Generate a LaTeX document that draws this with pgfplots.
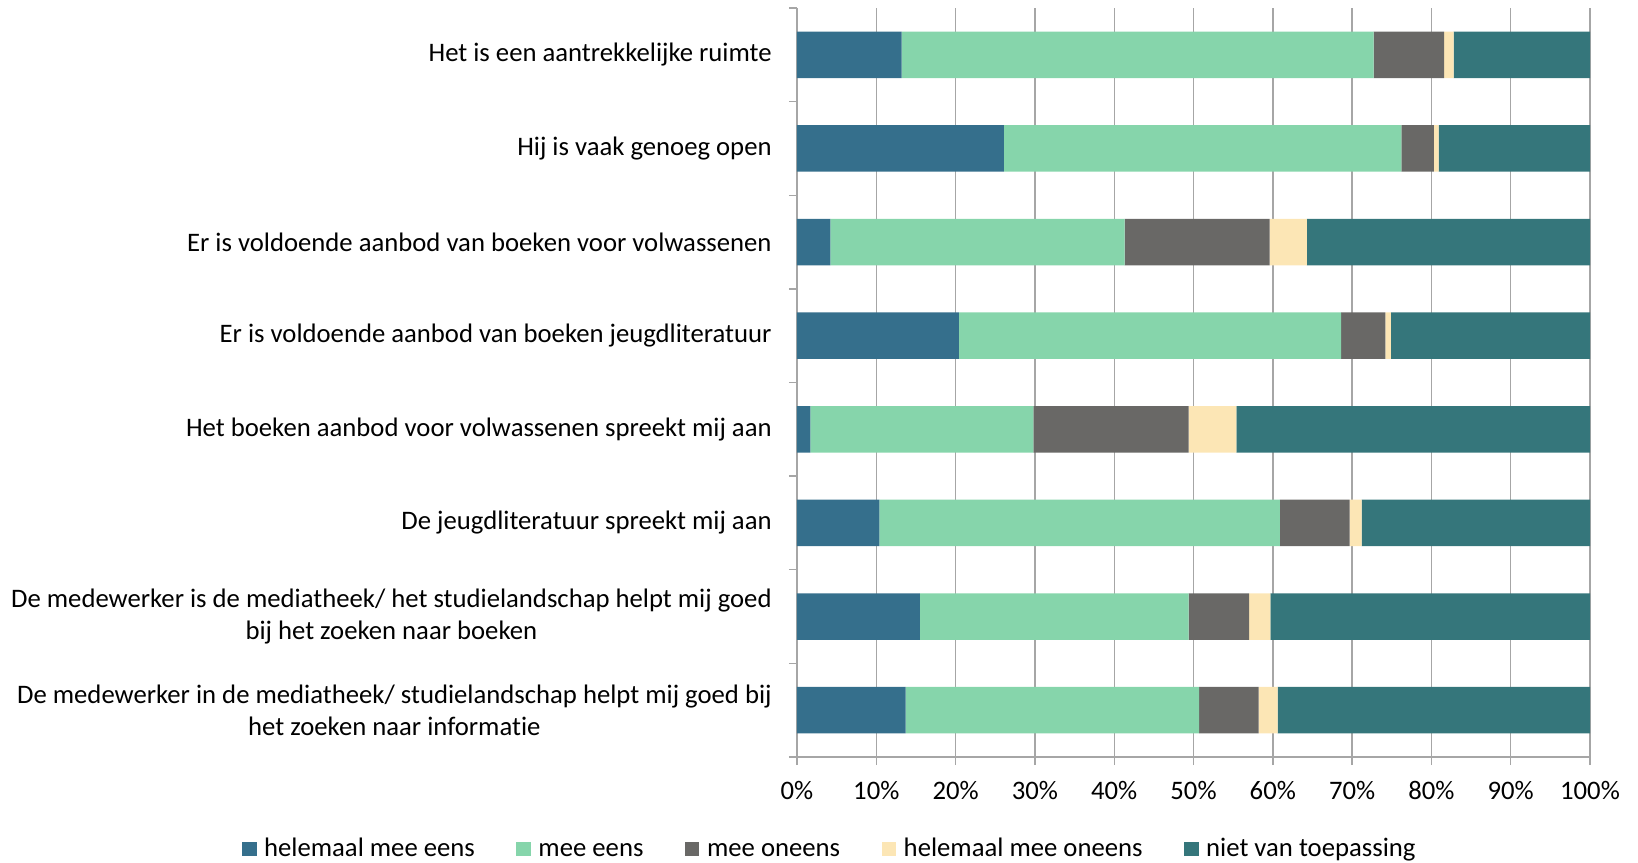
\documentclass[border=0pt]{standalone}
\usepackage{pgfplots}
\pgfplotsset{compat=1.18}
\usepackage{fontspec}
\setmainfont[Ligatures={NoCommon}]{Carlito}
\definecolor{c1}{RGB}{53,111,140}
\definecolor{c2}{RGB}{134,213,171}
\definecolor{c3}{RGB}{105,104,102}
\definecolor{c4}{RGB}{252,230,181}
\definecolor{c5}{RGB}{53,118,123}
\definecolor{axgray}{RGB}{166,166,166}
\newcommand{\lf}{\fontsize{13.35}{15.7}\selectfont}
\begin{document}
\begin{tikzpicture}
\path[use as bounding box] (0,0) rectangle (819pt,431pt);
\begin{axis}[
  at={(398.5pt,52.5pt)}, anchor=south west,
  scale only axis, width=396.5pt, height=374.5pt,
  xbar stacked, bar width=23.3pt,
  xmin=0, xmax=100, ymin=-0.5, ymax=7.5, y dir=reverse,
  axis x line*=bottom, axis y line*=left,
  axis line style={draw=axgray, line width=0.7pt},
  xtick={0,10,...,100},
  xticklabels={0\%,10\%,20\%,30\%,40\%,50\%,60\%,70\%,80\%,90\%,100\%},
  xmajorgrids, grid style={draw=axgray, line width=0.7pt},
  tick align=outside, major tick length=4pt,
  tick style={draw=axgray, line width=0.7pt},
  ytick={-0.5,0.5,1.5,2.5,3.5,4.5,5.5,6.5,7.5}, yticklabels={},
  extra y ticks={0,1,2,3,4,5,6,7},
  extra y tick style={major tick length=0pt},
  extra y tick labels={
    {Het is een aantrekkelijke ruimte},
    {Hij is vaak genoeg open},
    {Er is voldoende aanbod van boeken voor volwassenen},
    {Er is voldoende aanbod van boeken jeugdliteratuur},
    {Het boeken aanbod voor volwassenen spreekt mij aan},
    {De jeugdliteratuur spreekt mij aan},
    {De medewerker is de mediatheek/ het studielandschap helpt mij goed\\bij het zoeken naar boeken},
    {De medewerker in de mediatheek/ studielandschap helpt mij goed bij\\het zoeken naar informatie}},
  tick label style={font=\lf, text=black},
  yticklabel style={align=center, inner sep=0pt, xshift=-12.5pt},
  xticklabel style={inner sep=0pt, yshift=-8pt},
  legend style={at={(axis description cs:0.040,-0.123)}, anchor=center,
    draw=none, fill=none, legend columns=5, font=\lf,
    nodes={inner sep=0pt, anchor=west, text height=9.6pt, text depth=2.6pt},
    /tikz/every odd column/.append style={column sep=3.8pt},
    /tikz/every even column/.append style={column sep=20.7pt}},
]
\addplot[fill=c1, draw=none, legend image code/.code={\fill[c1] (0pt,-3.6pt) rectangle (7.3pt,3.6pt);}]
  coordinates {(13.2,0) (26.1,1) (4.2,2) (20.4,3) (1.7,4) (10.4,5) (15.5,6) (13.7,7)};
\addplot[fill=c2, draw=none, legend image code/.code={\fill[c2] (0pt,-3.6pt) rectangle (7.3pt,3.6pt);}]
  coordinates {(59.5,0) (50.1,1) (37.1,2) (48.2,3) (28.1,4) (50.5,5) (33.9,6) (37.0,7)};
\addplot[fill=c3, draw=none, legend image code/.code={\fill[c3] (0pt,-3.6pt) rectangle (7.3pt,3.6pt);}]
  coordinates {(8.9,0) (4.1,1) (18.3,2) (5.6,3) (19.6,4) (8.8,5) (7.6,6) (7.5,7)};
\addplot[fill=c4, draw=none, legend image code/.code={\fill[c4] (0pt,-3.6pt) rectangle (7.3pt,3.6pt);}]
  coordinates {(1.2,0) (0.6,1) (4.7,2) (0.7,3) (6.0,4) (1.5,5) (2.7,6) (2.4,7)};
\addplot[fill=c5, draw=none, legend image code/.code={\fill[c5] (0pt,-3.6pt) rectangle (7.3pt,3.6pt);}]
  coordinates {(17.2,0) (19.1,1) (35.7,2) (25.1,3) (44.6,4) (28.8,5) (40.3,6) (39.4,7)};
\legend{helemaal mee eens, mee eens, mee oneens, helemaal mee oneens, niet van toepassing}
\end{axis}
\end{tikzpicture}
\end{document}
